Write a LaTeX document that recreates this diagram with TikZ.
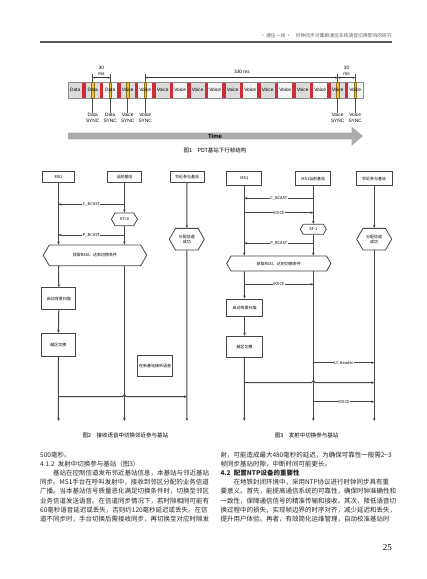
\documentclass[tikz,border=0pt]{standalone}
\usepackage{fontspec}
\setmainfont{Noto Sans CJK SC}
\newfontfamily\arialf{Liberation Sans}
\newfontfamily\timesf{Liberation Serif}
\usetikzlibrary{arrows.meta,positioning,shapes.symbols,calc}
\definecolor{cachred}{RGB}{204,45,58}
\definecolor{syncyel}{RGB}{236,190,50}
\definecolor{linegray}{RGB}{70,70,70}
\newcommand\seqfont{\fontsize{4}{5}\selectfont}
\newcommand\framefont{\arialf\fontsize{4.8}{5.7}\selectfont}

\begin{document}
\begin{tikzpicture}[x=1pt,y=-1pt,
 lbox/.style={rectangle,draw=linegray,line width=0.8pt,minimum width=34pt,
   minimum height=11pt,inner sep=0pt,align=center,font=\seqfont},
 hexb/.style={shape=signal,signal to=west and east,signal pointer angle=120,
   draw=linegray,line width=0.8pt,inner sep=0pt,align=center,font=\seqfont},
 msg/.style={draw=linegray,line width=1pt,-{Stealth[length=3pt,width=2.6pt]}},
 lbl/.style={fill=white,inner sep=0.5pt,font=\seqfont},
 dim/.style={draw=black!80,line width=0.5pt,
   {Stealth[length=2.4pt,width=2pt]}-{Stealth[length=2.4pt,width=2pt]}},
 cell/.style={font=\framefont,inner sep=0pt},
 caption/.style={font=\fontsize{5.5}{6.5}\selectfont,inner sep=0pt},
 bodytext/.style={font=\fontsize{6.5}{9.2}\selectfont,align=left,inner sep=0pt,
   text=black!85,anchor=north west}]
\fill[white] (0,0) rectangle (427,579);
\useasboundingbox (0,0) rectangle (427,579);

% running head
\node[anchor=east,inner sep=0pt,text=black!60,font=\fontsize{4.8}{5.5}\selectfont]
 (head) at (392,36) {·\,通信一线\,·\quad 时钟同步对集群通信系统语音切换影响的研究};
\draw[line width=1.1pt,black!65] (40,42) -- (392,42);

% ---- Fig 1: frame structure
\fill[gray!8] (68,82) rectangle (363,98);
\foreach \j in {-1,0,2,4,6,8,10,12,14}
  \fill[gray!28] ({92.67+17.5*\j-7},82) rectangle ({92.67+17.5*\j+7},98);
\foreach \j in {0,...,15}
  \fill[cachred] ({92.67+17.5*\j-10.5},82) rectangle ({92.67+17.5*\j-7},98);
\draw[black!45,line width=0.5pt] (68,82) rectangle (363,98);
\foreach \j in {0,1,2,3,14,15}
  \filldraw[fill=syncyel,draw=syncyel!60!black,line width=0.3pt]
   ({92.67+17.5*\j-1.3},82) rectangle ({92.67+17.5*\j+1.3},98);
\foreach \j in {-1,0,1}
  \node[cell] (b\j) at ({92.67+17.5*\j},90) {Data};
\foreach \j in {2,...,15}
  \node[cell] (b\j) at ({92.67+17.5*\j},90) {Voice};
\foreach \j/\t in {0/Data,1/Data,2/Voice,3/Voice,14/Voice,15/Voice}{
  \node[cell,align=center] (s\j) at ({92.67+17.5*\j},118) {\t\\SYNC};
  \draw[black!70,line width=0.6pt] ({92.67+17.5*\j},98) -- (s\j.north);
}
\foreach \j in {0,1,3,14,15}{
  \coordinate (t\j) at ({92.67+17.5*\j},77.7);
  \draw[black!70,line width=0.6pt] ({92.67+17.5*\j},74) -- ({92.67+17.5*\j},82);
}
\draw[dim] (t0) -- (t1);
\draw[dim] (t3) -- (t14);
\draw[dim] (t14) -- (t15);
\node[cell,align=center] (ms30a) at (101.4,70.5) {30\\ms};
\node[cell] (ms330) at (242,71.7) {330 ms};
\node[cell,align=center] (ms30b) at (346.5,70.5) {30\\ms};
\fill[gray!65] (68,132.7) -- (351.7,132.7) -- (351.7,126.7) -- (363,136)
 -- (351.7,145.7) -- (351.7,139.3) -- (68,139.3) -- cycle;
\node[cell,font=\arialf\fontsize{6}{7}\selectfont\bfseries] (tm) at (215,136) {Time};
\node[caption] (cap1) at (215,150.7) {图1\quad PDT基站下行帧结构};

% ---- Fig 2: receive handover
\node[lbox,minimum width=32.5pt] (ms2) at (58.5,177.2) {MS1};
\node[lbox] (cb2) at (124.4,177.2) {当前基站};
\node[lbox] (nb2) at (187,177.2) {邻近参与基站};
\node[hexb,minimum width=26pt,minimum height=12.7pt] (st2) at (124.4,219.3) {ST=0};
\node[hexb,minimum width=103.4pt,minimum height=20.7pt] (rs2) at (95,255.3) {获取RSSI、达到切换条件};
\node[hexb,minimum width=35pt,minimum height=21.7pt] (al2) at (186.8,239.2) {分配信道\\成功};
\node[lbox,minimum height=21.6pt] (sc2) at (58.8,298.5) {启动背景扫描};
\node[lbox,minimum height=22.7pt] (ho2) at (58.4,344.7) {越区切换};
\node[lbox,minimum width=35pt,minimum height=21pt] (vc2) at (155.2,365.5) {在新基站接听语音};
\coordinate (m21) at (58.5,204.3);
\coordinate (m22) at (58.5,235);
\coordinate (x2) at (124.4,396.7);
\coordinate (e2) at (58.5,421);
\draw[msg] (ms2.south) -- (ms2.south |- rs2.north);
\draw[msg] (ms2.south |- rs2.south) -- (sc2.north);
\draw[msg] (sc2.south) -- (ho2.north);
\draw[msg] (ho2.south) -- (ms2.south |- e2);
\draw[msg] (cb2.south) -- (st2.north);
\draw[msg] (st2.south) -- (cb2.south |- rs2.north);
\draw[msg] (cb2.south |- rs2.south) -- (cb2.south |- e2);
\draw[msg] (nb2.south) -- (al2.north);
\draw[msg] (al2.south) -- (nb2.south |- e2);
\draw[msg] (cb2.south |- m21) -- node[lbl] (l21) {C\_BCAST} (ms2.south |- m21);
\draw[msg] (cb2.south |- m22) -- node[lbl] (l22) {P\_BCAST} (ms2.south |- m22);
\draw[msg] (ms2.south |- x2) -- ($(x2)+(-2,0)$) -- ($(x2)+(0,-2)$) -- ($(x2)+(2,0)$) -- (nb2.south |- x2);
\node[caption] (cap2) at (125.3,435) {图2\quad 接收语音中切换邻近参与基站};

% ---- Fig 3: transmit handover
\node[lbox,minimum width=35pt,minimum height=14pt] (ms3) at (244.3,178.5) {MS1};
\node[lbox,minimum width=35pt,minimum height=14pt] (cb3) at (313.3,178.5) {MS1当前基站};
\node[lbox,minimum width=35.7pt,minimum height=14pt] (nb3) at (374.2,178.5) {邻近参与基站};
\node[hexb,minimum width=26pt,minimum height=10pt] (st3) at (313.3,229.3) {ST-1};
\node[hexb,minimum width=104.3pt,minimum height=15pt] (rs3) at (278.8,263.5) {获取RSSI、达到切换条件};
\node[hexb,minimum width=35pt,minimum height=21.7pt] (al3) at (374.2,239.2) {分配信道\\成功};
\node[lbox,minimum width=35.6pt,minimum height=17.7pt] (sc3) at (244.5,307.8) {启动背景扫描};
\node[lbox,minimum width=35.6pt,minimum height=21.3pt] (ho3) at (244.5,346.7) {越区切换};
\coordinate (m31) at (244.3,198.3);
\coordinate (m32) at (244.3,212.7);
\coordinate (m33) at (244.3,243.3);
\coordinate (m34) at (244.3,284.3);
\coordinate (m35) at (244.3,362.7);
\coordinate (m36) at (244.3,401.7);
\coordinate (x3) at (313.3,382.7);
\coordinate (e3) at (244.3,421);
\draw[msg] (ms3.south) -- (ms3.south |- rs3.north);
\draw[msg] (ms3.south |- rs3.south) -- (sc3.north);
\draw[msg] (sc3.south) -- (ho3.north);
\draw[msg] (ho3.south) -- (ms3.south |- e3);
\draw[msg] (cb3.south) -- (st3.north);
\draw[msg] (st3.south) -- (cb3.south |- rs3.north);
\draw[msg] (cb3.south |- rs3.south) -- (cb3.south |- e3);
\draw[msg] (nb3.south) -- (al3.north);
\draw[msg] (al3.south) -- (nb3.south |- e3);
\draw[msg] (cb3.south |- m31) -- node[lbl] (l31) {C\_BCAST} (ms3.south |- m31);
\draw[msg] (ms3.south |- m32) -- node[lbl] (l32) {VOICE} (cb3.south |- m32);
\draw[msg] (cb3.south |- m33) -- node[lbl] (l33) {P\_BCAST} (ms3.south |- m33);
\draw[msg] (ms3.south |- m34) -- node[lbl] (l34) {VOICE} (cb3.south |- m34);
\draw[msg] (cb3.south |- m35) -- node[lbl] (l35) {LC Header} (nb3.south |- m35);
\draw[msg] (cb3.south |- m36) -- node[lbl] (l36) {VOICE} (nb3.south |- m36);
\draw[msg] (ms3.south |- x3) -- ($(x3)+(-2,0)$) -- ($(x3)+(0,-2)$) -- ($(x3)+(2,0)$) -- (nb3.south |- x3);
\node[caption] (cap3) at (306.7,435) {图3\quad 发射中切换参与基站};

% ---- body text
\node[bodytext] (colL) at (40,451.4) {500毫秒。\\
4.1.2\enspace 发射中切换参与基站（图3）\\
\hspace*{2em}基站在控制信道发布邻近基站信息，本基站与邻近基站\\
同步。MS1手台在呼叫发射中，接收到邻区分配的业务信道\\
广播。当本基站信号质量恶化满足切换条件时，切换至邻区\\
业务信道发送语音。在信道同步情况下，若时隙相同可能有\\
60毫秒语音延迟或丢失，否则约120毫秒延迟或丢失。在信\\
道不同步时，手台切换后需接收同步，再切换至对应时隙发};
\node[bodytext] (colR) at (220.3,451.4) {射，可能造成最大480毫秒的延迟，为确保可靠性一般需2\textasciitilde3\\
帧同步基站时隙，中断时间可能更长。\\
{\bfseries 4.2\enspace 配置NTP设备的重要性}\\
\hspace*{2em}在地铁封闭环境中，采用NTP协议进行时钟同步具有重\\
要意义。首先，能提高通信系统的可靠性，确保时钟准确性和\\
一致性，保障通信信号的精准传输和接收。其次，降低语音切\\
换过程中的损失，实现帧边界的时序对齐，减少延迟和丢失，\\
提升用户体验。再者，有效简化运维管理，自动校准基站时};
\node[anchor=east,inner sep=0pt,font=\timesf\fontsize{9}{10}\selectfont] (pg) at (392,547.3) {25};
\end{tikzpicture}
\end{document}
